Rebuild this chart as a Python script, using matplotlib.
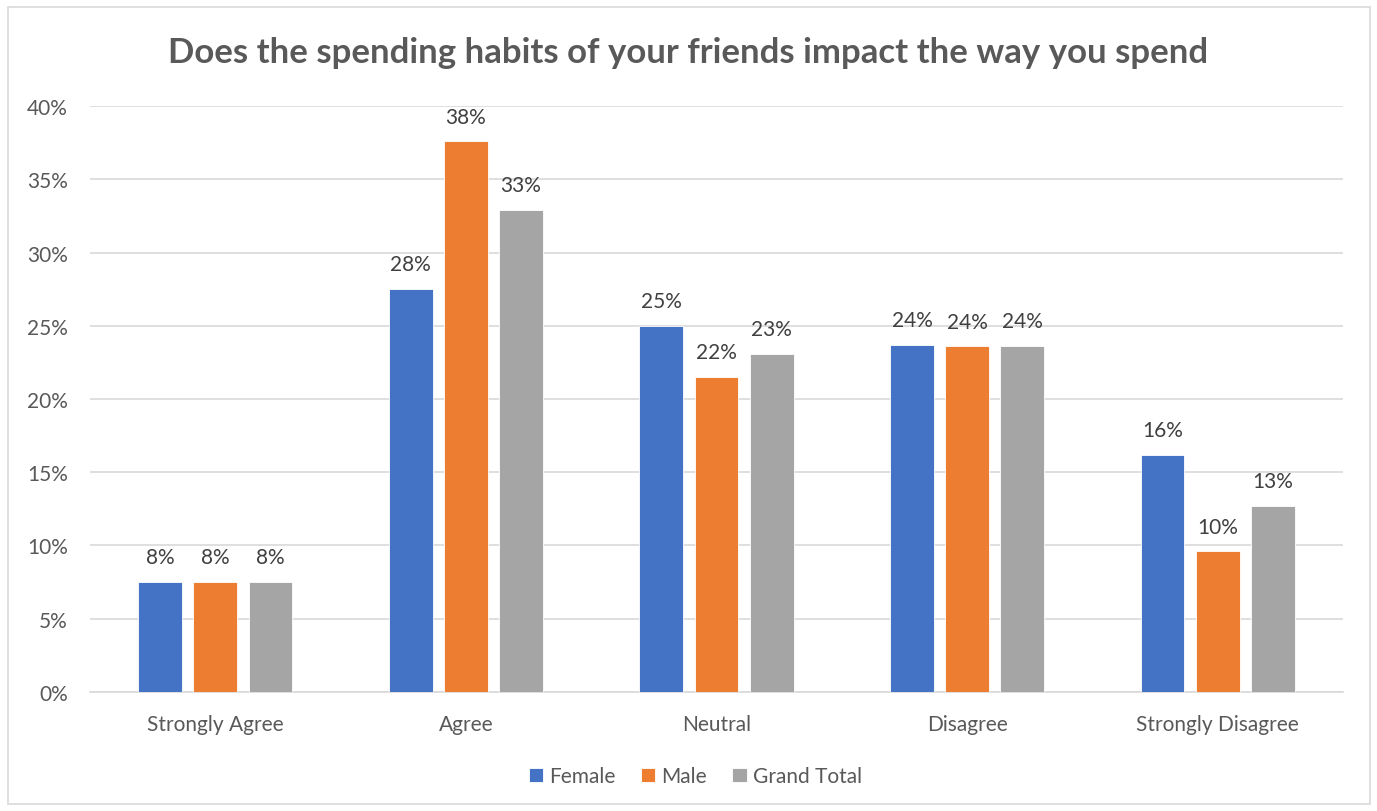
import numpy as np
import matplotlib
matplotlib.use("Agg")
import matplotlib.pyplot as plt
from matplotlib.patches import Rectangle

categories = ["Strongly Agree", "Agree", "Neutral", "Disagree", "Strongly Disagree"]
series_names = ["Female", "Male", "Grand Total"]
female = [0.075, 0.275, 0.250, 0.237, 0.162]
male = [0.075, 0.376, 0.215, 0.236, 0.096]
grand_total = [0.075, 0.329, 0.231, 0.2365, 0.127]
colors = ["#4472C4", "#ED7D31", "#A5A5A5"]
yticks = [0, 0.05, 0.10, 0.15, 0.20, 0.25, 0.30, 0.35, 0.40]

plt.rcParams["font.family"] = ["Lato", "DejaVu Sans"]
text_color = "#595959"

fig = plt.figure(figsize=(13.77, 8.12), dpi=100)
ax = fig.add_axes([0.0654, 0.1466, 0.9099, 0.7216])

# light outer frame around the chart area
fig.patches.append(Rectangle((8 / 1377, 7 / 812), 1362 / 1377, 797 / 812,
                             transform=fig.transFigure, fill=False,
                             edgecolor="#D9D9D9", linewidth=1.2))

x = np.arange(len(categories))
width = 0.175
step = 0.22
for i, (vals, name) in enumerate(zip([female, male, grand_total], series_names)):
    bars = ax.bar(x + (i - 1) * step, vals, width, color=colors[i], label=name,
                  edgecolor="white", linewidth=0.6, zorder=3)
    for b, v in zip(bars, vals):
        ax.text(b.get_x() + b.get_width() / 2, v + 0.010, f"{v * 100:.0f}%",
                ha="center", va="bottom", fontsize=15, color="#404040")

ax.set_xlim(-0.5, len(categories) - 0.5)
ax.set_ylim(0, 0.4)
ax.set_yticks(yticks)
ax.set_yticklabels([f"{t * 100:.0f}%" for t in yticks])
ax.set_xticks(x)
ax.set_xticklabels(categories)
ax.tick_params(axis="both", length=0, labelsize=15, colors=text_color)
ax.tick_params(axis="x", pad=16)
ax.tick_params(axis="y", pad=16)
ax.grid(axis="y", color="#D9D9D9", linewidth=1.2, zorder=0)
for side in ["top", "right", "left"]:
    ax.spines[side].set_visible(False)
ax.spines["bottom"].set_color("#D9D9D9")
ax.spines["bottom"].set_linewidth(1.2)

fig.text(0.5, 0.935, "Does the spending habits of your friends impact the way you spend",
         ha="center", va="center", fontsize=25, fontweight="bold", color=text_color)

fig.legend(loc="center", bbox_to_anchor=(0.505, 0.043), ncol=3, frameon=False,
           fontsize=15, handlelength=0.7, handleheight=0.7, handletextpad=0.3,
           columnspacing=1.2, labelcolor=text_color)

fig.savefig("out.png", dpi=100)
